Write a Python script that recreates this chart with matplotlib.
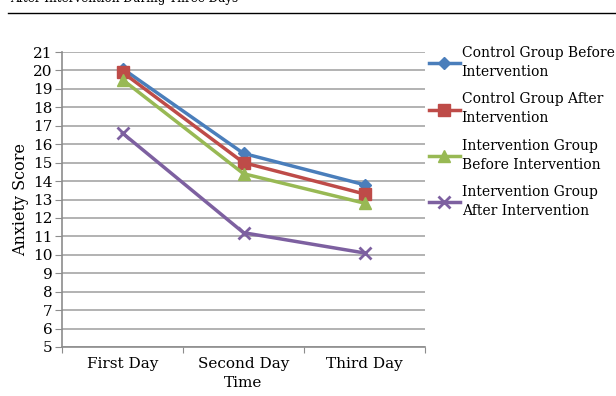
import numpy as np
import matplotlib
matplotlib.use('Agg')
import matplotlib.pyplot as plt
from matplotlib.lines import Line2D

plt.rcParams['font.family'] = ['DejaVu Serif']

days = ['First Day', 'Second Day', 'Third Day']
control_before = [20.1, 15.5, 13.8]
control_after = [19.9, 15.0, 13.3]
interv_before = [19.5, 14.4, 12.8]
interv_after = [16.6, 11.2, 10.1]
labels = ['Control Group Before\nIntervention',
          'Control Group After\nIntervention',
          'Intervention Group\nBefore Intervention',
          'Intervention Group\nAfter Intervention']

series = [control_before, control_after, interv_before, interv_after]
colors = ['#4a7ebb', '#be4b48', '#98b954', '#7d60a0']
markers = ['D', 's', '^', 'x']
msizes = [6, 8, 8, 8]

fig = plt.figure(figsize=(6.16, 3.96), dpi=100)
ax = fig.add_axes([62/616, 1 - 347/396, (425-62)/616, (347-52)/396])

x = np.arange(len(days))
for s, c, m, ms in zip(series, colors, markers, msizes):
    ax.plot(x, s, color=c, lw=2.5, marker=m, ms=ms, mew=2 if m == 'x' else 1,
            mec=c, mfc=c)

ax.set_xlim(-0.5, 2.5)
ax.set_ylim(5, 21)
ax.set_yticks(range(5, 22))
ax.grid(axis='y', color='#a6a6a6', lw=1.2)
ax.set_axisbelow(True)

# category ticks sit on the boundaries
ax.set_xticks([-0.5, 0.5, 1.5, 2.5])
ax.set_xticklabels([])
ax.set_xticks(x, minor=True)
ax.set_xticklabels(days, minor=True, fontsize=11)
ax.tick_params(axis='x', which='minor', length=0, pad=7)
ax.tick_params(axis='x', which='major', length=4, color='#8c8c8c', direction='out')
ax.tick_params(axis='y', length=5, color='#8c8c8c', labelsize=11, pad=2)

for side in ['top', 'right']:
    ax.spines[side].set_visible(False)
for side in ['left', 'bottom']:
    ax.spines[side].set_color('#8c8c8c')
    ax.spines[side].set_linewidth(1.2)

ax.set_ylabel('Anxiety Score', fontsize=11.5, labelpad=3)
ax.set_xlabel('Time', fontsize=11, labelpad=4)

handles = [Line2D([], [], color=c, lw=2.5, marker=m, ms=ms, mew=2 if m == 'x' else 1,
                  mec=c, mfc=c) for c, m, ms in zip(colors, markers, msizes)]
leg = fig.legend(handles, labels, loc='upper left', bbox_to_anchor=(429/616, 1 - 46/396),
                 frameon=False, fontsize=10, handlelength=2.2, handletextpad=0.15,
                 labelspacing=0.97, borderaxespad=0, borderpad=0)
for t in leg.get_texts():
    t.set_linespacing(1.45)

# cut-off caption and rule at the top
fig.text(10/616, 1 - 2/396, 'After Intervention During Three Days', fontsize=8.6,
         va='baseline', ha='left')
fig.add_artist(Line2D([8/616, 1], [1 - 12.5/396, 1 - 12.5/396], color='black', lw=1))

fig.savefig('out.png', dpi=100)
